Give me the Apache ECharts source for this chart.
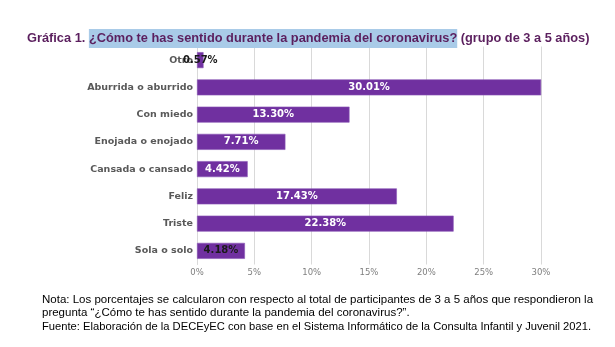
<!DOCTYPE html>
<html><head><meta charset="utf-8">
<script src="https://cdn.jsdelivr.net/npm/echarts@6/dist/echarts.min.js"></script>
<style>html,body{margin:0;padding:0;background:#fff}#c{width:615px;height:347px}</style>
</head><body><div id="c"></div>
<script>
const categories = ["Otro", "Aburrida o aburrido", "Con miedo", "Enojada o enojado", "Cansada o cansado", "Feliz", "Triste", "Sola o solo"];
const values = [0.57, 30.01, 13.30, 7.71, 4.42, 17.43, 22.38, 4.18];
const tickLabels = ["0%", "5%", "10%", "15%", "20%", "25%", "30%"];
const darkLabel = ["Otro", "Sola o solo"];

const chart = echarts.init(document.getElementById('c'), null, {renderer: 'canvas'});
const titleFont = '"Liberation Sans", sans-serif';
const noteFont = '"Liberation Sans", sans-serif';
chart.setOption({
  animation: false,
  title: {
    left: 27, top: 29, padding: 0,
    text: '{a|Gráfica 1. }{b|¿Cómo te has sentido durante la pandemia del coronavirus?}{a| (grupo de 3 a 5 años)}',
    textStyle: {
      rich: {
        a: {fontFamily: titleFont, fontWeight: 'bold', fontSize: 12.8, color: '#5b1f5e', lineHeight: 19},
        b: {fontFamily: titleFont, fontWeight: 'bold', fontSize: 12.8, color: '#5b1f5e', backgroundColor: '#a9cbe8', lineHeight: 19, height: 19}
      }
    }
  },
  grid: {left: 197, right: 74, top: 46.5, bottom: 82.5, containLabel: false},
  xAxis: {
    type: 'value', min: 0, max: 30, interval: 5,
    axisLine: {show: false}, axisTick: {show: false},
    splitLine: {lineStyle: {color: '#d9d9d9', width: 1}},
    axisLabel: {
      color: '#7f7f7f', fontFamily: '"DejaVu Sans", sans-serif', fontSize: 8.5, margin: 4,
      formatter: function (v) { return tickLabels[Math.round(v / 5)]; }
    }
  },
  yAxis: {
    type: 'category', data: categories, inverse: true,
    axisLine: {show: true, lineStyle: {color: '#d9d9d9'}}, axisTick: {show: false},
    axisLabel: {color: '#595959', fontFamily: '"DejaVu Sans", sans-serif', fontWeight: 'bold', fontSize: 9.5, margin: 4}
  },
  series: [{
    type: 'bar', barWidth: 16,
    data: values.map(function (v, i) {
      return {
        value: v,
        label: {color: darkLabel.indexOf(categories[i]) >= 0 ? '#1a1a1a' : '#ffffff'}
      };
    }),
    itemStyle: {color: '#7030a0', borderColor: '#8a55b5', borderWidth: 0.6},
    label: {
      show: true, position: 'inside',
      fontFamily: '"DejaVu Sans", sans-serif', fontWeight: 'bold', fontSize: 10,
      formatter: function (p) { return p.value.toFixed(2) + '%'; }
    }
  }],
  graphic: [
    {type: 'text', left: 42, top: 294, style: {text: 'Nota: Los porcentajes se calcularon con respecto al total de participantes de 3 a 5 años que respondieron la', fontFamily: noteFont, fontSize: 11.5, fill: '#000'}},
    {type: 'text', left: 42, top: 307, style: {text: 'pregunta “¿Cómo te has sentido durante la pandemia del coronavirus?”.', fontFamily: noteFont, fontSize: 11.5, fill: '#000'}},
    {type: 'text', left: 42, top: 321, style: {text: 'Fuente: Elaboración de la DECEyEC con base en el Sistema Informático de la Consulta Infantil y Juvenil 2021.', fontFamily: noteFont, fontSize: 11.2, fill: '#000'}}
  ]
});
</script></body></html>
